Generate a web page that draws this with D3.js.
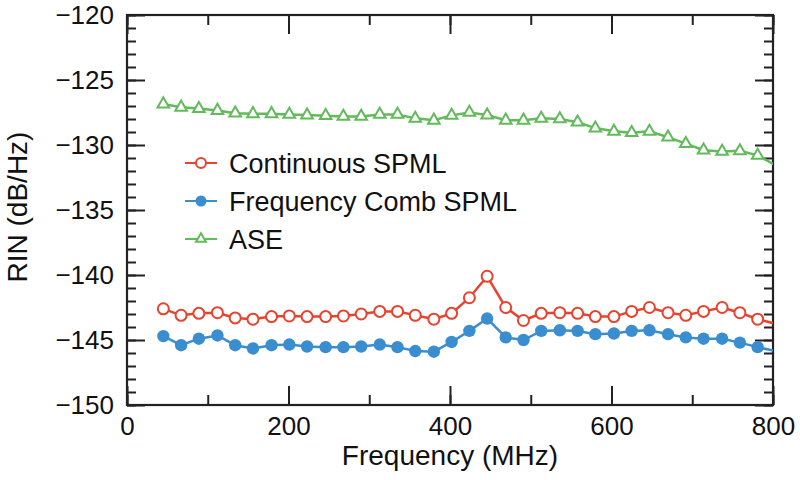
<!DOCTYPE html>
<html>
<head>
<meta charset="utf-8">
<script src="https://cdn.jsdelivr.net/npm/d3@7"></script>
<style>
  html, body { margin: 0; padding: 0; background: #fff; }
  svg { display: block; }
  text { font-family: "Liberation Sans", Arial, Helvetica, sans-serif; fill: #111; }
</style>
</head>
<body>
<svg id="chart" width="800" height="480"></svg>
<script>
// ---- data ----
const freq = [45, 67, 89, 112, 134, 156, 179, 201, 223, 246, 268, 290, 313, 335, 357, 380, 402,
              424, 446, 469, 491, 513, 536, 558, 580, 603, 625, 647, 670, 692, 714, 737, 759, 781, 803];
const continuousSPML = [-142.6, -143.1, -142.95, -142.9, -143.3, -143.4, -143.2, -143.15, -143.2, -143.2, -143.15, -143.0, -142.8, -142.8, -143.1, -143.4, -142.95,
                        -141.75, -140.1, -142.5, -143.5, -142.95, -142.9, -142.95, -143.2, -143.2, -142.8, -142.5, -142.9, -143.1, -142.8, -142.5, -142.9, -143.4, -143.75];
const combSPML = [-144.7, -145.4, -144.9, -144.65, -145.4, -145.65, -145.4, -145.35, -145.5, -145.55, -145.55, -145.5, -145.35, -145.55, -145.85, -145.9, -145.15,
                  -144.3, -143.35, -144.8, -145.0, -144.3, -144.25, -144.3, -144.55, -144.5, -144.3, -144.25, -144.55, -144.8, -144.9, -144.9, -145.2, -145.55, -145.85];
const ase = [-126.85, -127.1, -127.2, -127.35, -127.55, -127.6, -127.6, -127.65, -127.7, -127.75, -127.8, -127.8, -127.65, -127.65, -127.95, -128.1, -127.72,
             -127.5, -127.7, -128.1, -128.1, -127.95, -128.0, -128.25, -128.7, -128.95, -129.05, -128.95, -129.4, -129.9, -130.4, -130.5, -130.45, -130.8, -131.55];
const seriesNames = ["Continuous SPML", "Frequency Comb SPML", "ASE"];
const xTicks = [0, 200, 400, 600, 800];
const xMinorTicks = [0, 100, 200, 300, 400, 500, 600, 700, 800];
const yTicks = [-150, -145, -140, -135, -130, -125, -120];
const yMinorTicks = d3.range(-150, -119, 1);
const xTitle = "Frequency (MHz)";
const yTitle = "RIN (dB/Hz)";

// ---- layout ----
const L = 127, R = 773, T = 15, B = 405;
const svg = d3.select("#chart");
const x = d3.scaleLinear().domain([0, 800]).range([L, R]);
const y = d3.scaleLinear().domain([-150, -120]).range([B, T]);

const colors = { c: "#e8432f", f: "#3a8dcf", a: "#62ba5a" };
const fmt = d3.format("d");

// clip
svg.append("defs").append("clipPath").attr("id", "clip")
  .append("rect").attr("x", L).attr("y", T).attr("width", R - L).attr("height", B - T);

// axes helpers
function styleAxis(g) {
  g.select(".domain").remove();
  g.selectAll(".tick line").attr("stroke", "#222").attr("stroke-width", 2);
  g.selectAll("text").attr("font-size", 26).attr("fill", "#111")
    .attr("font-family", '"Liberation Sans", Arial, Helvetica, sans-serif');
}
// minor ticks
svg.append("g").attr("transform", `translate(${L},0)`)
  .call(d3.axisLeft(y).tickValues(yMinorTicks).tickSize(-9).tickFormat(""))
  .call(styleAxis);
svg.append("g").attr("transform", `translate(${R},0)`)
  .call(d3.axisRight(y).tickValues(yMinorTicks).tickSize(-9).tickFormat(""))
  .call(styleAxis);
svg.append("g").attr("transform", `translate(0,${B})`)
  .call(d3.axisBottom(x).tickValues(xMinorTicks).tickSize(-10).tickFormat(""))
  .call(styleAxis);
svg.append("g").attr("transform", `translate(0,${T})`)
  .call(d3.axisTop(x).tickValues(xMinorTicks).tickSize(-10).tickFormat(""))
  .call(styleAxis);
// major ticks
svg.append("g").attr("transform", `translate(${L},0)`)
  .call(d3.axisLeft(y).tickValues(yTicks).tickSizeInner(-18).tickSizeOuter(0).tickPadding(13).tickFormat(fmt))
  .call(styleAxis);
svg.append("g").attr("transform", `translate(${R},0)`)
  .call(d3.axisRight(y).tickValues(yTicks).tickSizeInner(-18).tickSizeOuter(0).tickFormat(""))
  .call(styleAxis);
svg.append("g").attr("transform", `translate(0,${B})`)
  .call(d3.axisBottom(x).tickValues(xTicks).tickSizeInner(-19).tickSizeOuter(0).tickPadding(12).tickFormat(fmt))
  .call(styleAxis);
svg.append("g").attr("transform", `translate(0,${T})`)
  .call(d3.axisTop(x).tickValues(xTicks).tickSizeInner(-19).tickSizeOuter(0).tickFormat(""))
  .call(styleAxis);

// frame
svg.append("rect").attr("x", L).attr("y", T).attr("width", R - L).attr("height", B - T)
  .attr("fill", "none").attr("stroke", "#222").attr("stroke-width", 2.2);

// axis titles
svg.append("text").attr("x", (L + R) / 2).attr("y", 465).attr("text-anchor", "middle")
  .attr("font-size", 28).text(xTitle);
svg.append("text").attr("transform", `translate(27,${(T + B) / 2 - 3}) rotate(-90)`)
  .attr("text-anchor", "middle").attr("font-size", 28).text(yTitle);

// series
const plot = svg.append("g").attr("clip-path", "url(#clip)");
const line = d3.line().x(d => x(d[0])).y(d => y(d[1]));
const zip = vals => freq.map((f, i) => [f, vals[i]]);
const inDomain = d => d[0] <= x.domain()[1];

const dc = zip(continuousSPML), df = zip(combSPML), da = zip(ase);

plot.append("path").datum(da).attr("d", line).attr("fill", "none").attr("stroke", colors.a).attr("stroke-width", 2.5);
plot.selectAll(".tri").data(da.filter(inDomain)).join("path").attr("class", "tri")
  .attr("transform", d => `translate(${x(d[0])},${y(d[1])})`)
  .attr("d", d3.symbol(d3.symbolTriangle, 58))
  .attr("fill", "#fff").attr("stroke", colors.a).attr("stroke-width", 2);

plot.append("path").datum(dc).attr("d", line).attr("fill", "none").attr("stroke", colors.c).attr("stroke-width", 2.5);
plot.selectAll(".oc").data(dc.filter(inDomain)).join("circle").attr("class", "oc")
  .attr("cx", d => x(d[0])).attr("cy", d => y(d[1])).attr("r", 5.5)
  .attr("fill", "#fff").attr("stroke", colors.c).attr("stroke-width", 2);

plot.append("path").datum(df).attr("d", line).attr("fill", "none").attr("stroke", colors.f).attr("stroke-width", 2.5);
plot.selectAll(".fc").data(df.filter(inDomain)).join("circle").attr("class", "fc")
  .attr("cx", d => x(d[0])).attr("cy", d => y(d[1])).attr("r", 6.2)
  .attr("fill", colors.f).attr("stroke", "none");

// legend
const legRows = [
  { name: seriesNames[0], color: colors.c, type: "open" },
  { name: seriesNames[1], color: colors.f, type: "filled" },
  { name: seriesNames[2], color: colors.a, type: "tri" }
];
const lg = svg.append("g");
legRows.forEach((r, i) => {
  const yy = 163 + i * 38;
  lg.append("line").attr("x1", 185).attr("x2", 217).attr("y1", yy).attr("y2", yy)
    .attr("stroke", r.color).attr("stroke-width", 2);
  if (r.type === "open") {
    lg.append("circle").attr("cx", 201).attr("cy", yy).attr("r", 5).attr("fill", "#fff").attr("stroke", r.color).attr("stroke-width", 2);
  } else if (r.type === "filled") {
    lg.append("circle").attr("cx", 201).attr("cy", yy).attr("r", 5.5).attr("fill", r.color);
  } else {
    lg.append("path").attr("transform", `translate(201,${yy})`).attr("d", d3.symbol(d3.symbolTriangle, 42))
      .attr("fill", "#fff").attr("stroke", r.color).attr("stroke-width", 2);
  }
  lg.append("text").attr("x", 229).attr("y", yy + 10).attr("font-size", 27).text(r.name);
});
</script>
</body>
</html>
